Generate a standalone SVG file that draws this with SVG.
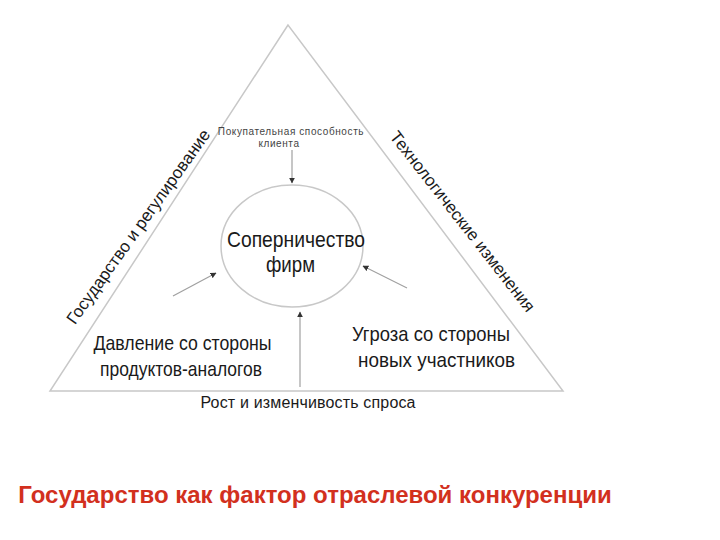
<svg xmlns="http://www.w3.org/2000/svg" width="720" height="540" viewBox="0 0 720 540">
<style>
.edge{fill:none;stroke:#c8c8c8;stroke-width:1.5}
.conn{fill:none;stroke:#a0a0a0;stroke-width:1.2;marker-end:url(#ah)}
.t{font-family:"Liberation Sans",Arial,sans-serif;fill:#1a1a1a}
.small{font-size:10px;fill:#444;letter-spacing:0.6px}
.big{font-size:22px}
.mid{font-size:21px}
.side{font-size:17px}
</style>
<defs>
<marker id="ah" viewBox="0 0 10 10" refX="9" refY="5" markerWidth="5" markerHeight="5" orient="auto">
<path d="M0,0 L10,5 L0,10 z" fill="#333"/>
</marker>
</defs>
<rect width="720" height="540" fill="#fff"/>
<g id="triangle">
<path class="edge" d="M288,25 L50,391 L563,391 Z"/>
</g>
<g id="connectors">
<line class="conn" x1="292" y1="150" x2="292" y2="183"/>
<line class="conn" x1="300" y1="387" x2="300" y2="312"/>
<line class="conn" x1="173" y1="296" x2="216" y2="273"/>
<line class="conn" x1="407" y1="288" x2="363" y2="266"/>
</g>
<g id="center">
<ellipse cx="292" cy="246" rx="71" ry="61" fill="none" stroke="#c8c8c8" stroke-width="1.5"/>
<text class="t big" x="296" y="247" text-anchor="middle" textLength="138" lengthAdjust="spacingAndGlyphs">Соперничество</text>
<text class="t big" x="290.5" y="272" text-anchor="middle" textLength="49" lengthAdjust="spacingAndGlyphs">фирм</text>
</g>
<g id="buyers">
<text class="t small" x="291" y="135" text-anchor="middle">Покупательная способность</text>
<text class="t small" x="279" y="147" text-anchor="middle">клиента</text>
</g>
<g id="substitutes">
<text class="t mid" x="182.5" y="350" text-anchor="middle" textLength="178" lengthAdjust="spacingAndGlyphs">Давление со стороны</text>
<text class="t mid" x="181" y="376" text-anchor="middle" textLength="162" lengthAdjust="spacingAndGlyphs">продуктов-аналогов</text>
</g>
<g id="entrants">
<text class="t mid" x="431" y="341" text-anchor="middle" textLength="158" lengthAdjust="spacingAndGlyphs">Угроза со стороны</text>
<text class="t mid" x="436.5" y="367" text-anchor="middle" textLength="157" lengthAdjust="spacingAndGlyphs">новых участников</text>
</g>
<g id="demand">
<text class="t" x="308" y="408" text-anchor="middle" font-size="16" textLength="215">Рост и изменчивость спроса</text>
</g>
<g id="government">
<text class="t side" transform="translate(143,230) rotate(-54.5)" text-anchor="middle">Государство и регулирование</text>
</g>
<g id="technology">
<text class="t side" transform="translate(458,225) rotate(52)" text-anchor="middle">Технологические изменения</text>
</g>
<g id="title">
<text x="315" y="503" text-anchor="middle" font-family="'Liberation Sans',Arial,sans-serif" font-size="24" font-weight="bold" fill="#d2301e">Государство как фактор отраслевой конкуренции</text>
</g>
</svg>
